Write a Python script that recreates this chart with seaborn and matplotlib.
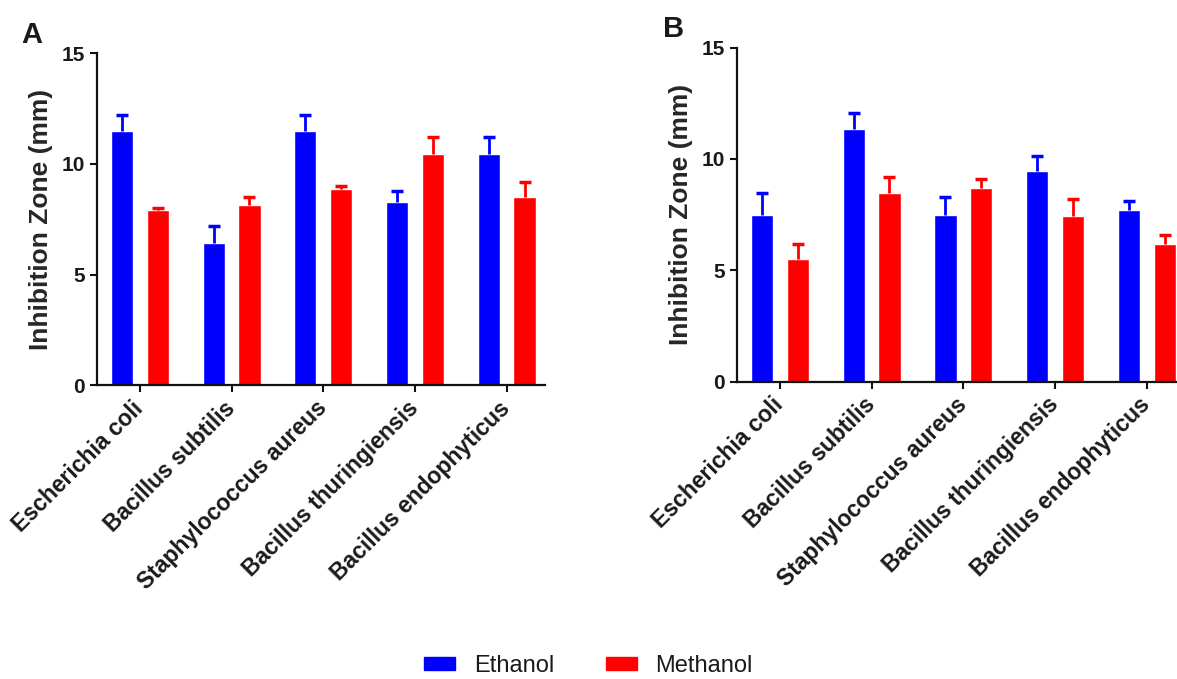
import pandas as pd
import matplotlib.pyplot as plt
import seaborn as sns

# --- data ---
bacteria = ['Escherichia coli', 'Bacillus subtilis', 'Staphylococcus aureus',
            'Bacillus thuringiensis', 'Bacillus endophyticus']
solvents = ['Ethanol', 'Methanol']

# Panel A
ethanol_a = [11.5, 6.45, 11.5, 8.3, 10.45]
ethanol_a_err = [0.7, 0.75, 0.7, 0.5, 0.75]
methanol_a = [7.9, 8.15, 8.85, 10.45, 8.5]
methanol_a_err = [0.12, 0.35, 0.15, 0.75, 0.7]

# Panel B
ethanol_b = [7.5, 11.35, 7.5, 9.45, 7.7]
ethanol_b_err = [0.95, 0.7, 0.8, 0.7, 0.4]
methanol_b = [5.5, 8.45, 8.7, 7.45, 6.2]
methanol_b_err = [0.7, 0.75, 0.4, 0.75, 0.4]

palette = {'Ethanol': '#0000ff', 'Methanol': '#ff0000'}


def make_df(eth, eth_err, meth, meth_err):
    rows = []
    for i, b in enumerate(bacteria):
        rows.append({'bacteria': b, 'solvent': 'Ethanol', 'zone': eth[i], 'err': eth_err[i]})
        rows.append({'bacteria': b, 'solvent': 'Methanol', 'zone': meth[i], 'err': meth_err[i]})
    return pd.DataFrame(rows)


df_a = make_df(ethanol_a, ethanol_a_err, methanol_a, methanol_a_err)
df_b = make_df(ethanol_b, ethanol_b_err, methanol_b, methanol_b_err)

sns.set_theme(style="ticks")
plt.rcParams['font.family'] = ['Liberation Sans', 'DejaVu Sans']
plt.rcParams['text.color'] = '#1a1a1a'
plt.rcParams['xtick.color'] = '#1a1a1a'
plt.rcParams['ytick.color'] = '#1a1a1a'

fig = plt.figure(figsize=(11.77, 6.79), dpi=100)
ax_a = fig.add_axes([0.0822, 0.4325, 0.381, 0.489])
ax_b = fig.add_axes([0.626, 0.438, 0.381, 0.4918])


def draw_panel(ax, df):
    sns.barplot(data=df, x='bacteria', y='zone', hue='solvent', order=bacteria,
                hue_order=solvents, palette=palette, width=0.78, gap=0.38,
                errorbar=None, legend=False, saturation=1, ax=ax)
    # upper-only error bars on top of each bar
    for cont, solv in zip(ax.containers, solvents):
        sub = df[df['solvent'] == solv].set_index('bacteria').loc[bacteria]
        xs = [p.get_x() + p.get_width() / 2 for p in cont.patches]
        hs = [p.get_height() for p in cont.patches]
        _, caps, _ = ax.errorbar(xs, hs, yerr=[[0] * len(xs), sub['err'].tolist()],
                                 fmt='none', ecolor=palette[solv], elinewidth=2,
                                 capsize=4.5, capthick=2.5, zorder=3)
        # drop the cap sitting on the bar top
        caps[0].set_visible(False)
    ax.set_ylim(0, 15)
    ax.set_xlim(-0.47, 4.42)
    ax.set_yticks([0, 5, 10, 15])
    ax.set_xlabel('')
    ax.set_ylabel('Inhibition Zone (mm)', fontsize=19, fontweight='bold', labelpad=6)
    for s in ['top', 'right']:
        ax.spines[s].set_visible(False)
    for s in ['left', 'bottom']:
        ax.spines[s].set_linewidth(1.6)
        ax.spines[s].set_color('#111111')
    ax.tick_params(axis='both', length=5, width=1.5, color='#111111', labelsize=15)
    ax.tick_params(axis='x', pad=9)
    ax.set_xticks(range(len(bacteria)))
    ax.set_xticklabels(bacteria, rotation=45, ha='right', va='center',
                       rotation_mode='anchor', fontweight='bold', fontsize=16.5)
    for lab in ax.get_yticklabels():
        lab.set_fontweight('bold')


draw_panel(ax_a, df_a)
draw_panel(ax_b, df_b)

fig.text(0.0184, 0.9367, 'A', fontsize=21, fontweight='bold')
fig.text(0.563, 0.9455, 'B', fontsize=21, fontweight='bold')

handles = [plt.Rectangle((0, 0), 1, 1, color=palette[s]) for s in solvents]
fig.legend(handles, solvents, loc='lower center', bbox_to_anchor=(0.5, -0.028),
           ncol=2, frameon=False, fontsize=17, handlelength=1.3, handleheight=0.5,
           handletextpad=0.8, columnspacing=2.2)

fig.savefig('out.png', dpi=100)
